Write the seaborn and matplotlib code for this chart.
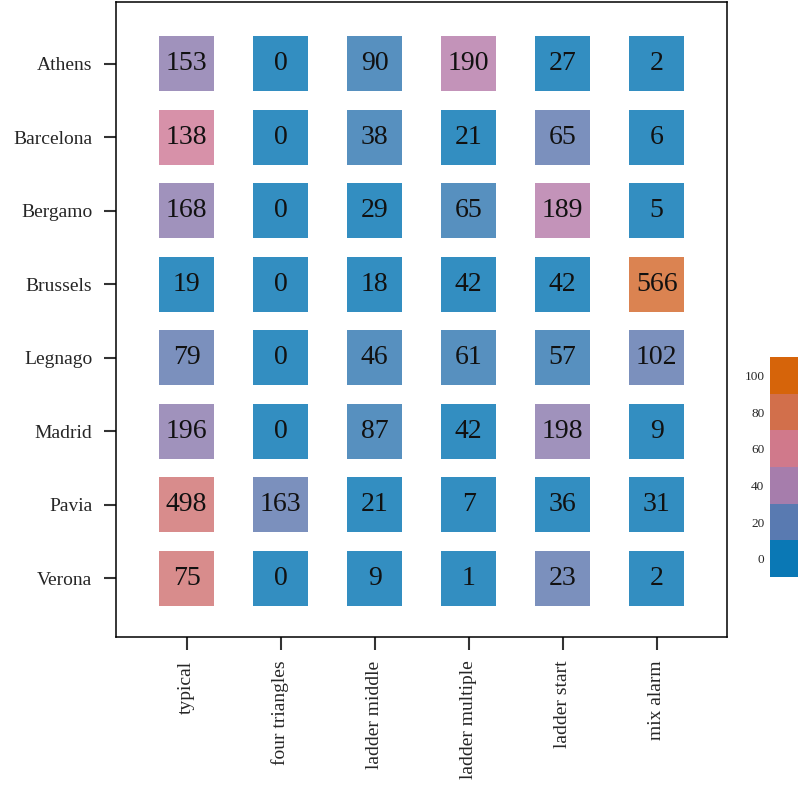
import numpy as np
import pandas as pd
import matplotlib
matplotlib.use("Agg")
import matplotlib.pyplot as plt
from matplotlib.colors import ListedColormap, BoundaryNorm
import matplotlib.cm as cm
import seaborn as sns

# data
cities = ["Athens", "Barcelona", "Bergamo", "Brussels", "Legnago", "Madrid", "Pavia", "Verona"]
patterns = ["typical", "four triangles", "ladder middle", "ladder multiple", "ladder start", "mix alarm"]
counts = [
    [153, 0, 90, 190, 27, 2],
    [138, 0, 38, 21, 65, 6],
    [168, 0, 29, 65, 189, 5],
    [19, 0, 18, 42, 42, 566],
    [79, 0, 46, 61, 57, 102],
    [196, 0, 87, 42, 198, 9],
    [498, 163, 21, 7, 36, 31],
    [75, 0, 9, 1, 23, 2],
]
cbar_ticks = [0, 20, 40, 60, 80, 100]

counts = np.array(counts)
share = 100 * counts / counts.sum(axis=1, keepdims=True)

# long table for plotting
rows = []
for i, c in enumerate(cities):
    for j, p in enumerate(patterns):
        rows.append({"x": j, "y": i, "count": counts[i, j],
                     "bin": int(min(share[i, j] // 10, 9))})
df = pd.DataFrame(rows)

anchor = ["#0072B2", "#CC79A7", "#D55E00"]
cell_pal = sns.blend_palette(anchor, 10)
bar_pal = sns.blend_palette(anchor, 6)

sns.set_style("white")
plt.rcParams["font.family"] = ["Liberation Serif", "DejaVu Serif"]

fig = plt.figure(figsize=(8, 7.95), dpi=100)
ax = fig.add_axes([0.145, 0.1987, 0.764, 0.799])

sns.scatterplot(data=df, x="x", y="y", hue="bin",
                palette={k: cell_pal[k] for k in range(10)},
                marker="s", s=1560, linewidth=0, alpha=0.8,
                legend=False, ax=ax)

for _, r in df.iterrows():
    ax.text(r["x"], r["y"], str(r["count"]), ha="center", va="center",
            fontsize=20, color="#111111")

ax.set_xlim(-0.75, len(patterns) - 0.25)
ax.set_ylim(len(cities) - 0.2, -0.84)
ax.set_xticks(range(len(patterns)))
ax.set_xticklabels(patterns, rotation=90, fontsize=14)
ax.set_yticks(range(len(cities)))
ax.set_yticklabels(cities, fontsize=14)
ax.set_xlabel("")
ax.set_ylabel("")
ax.tick_params(axis="both", length=9, width=1.5, color="#333333", pad=8,
               bottom=True, left=True)
for sp in ax.spines.values():
    sp.set_visible(True)
    sp.set_color("black")
    sp.set_linewidth(1.1)

# colorbar
cax = fig.add_axes([0.9625, 0.274, 0.035, 0.277])
bounds = np.arange(-10, 111, 20)
sm = cm.ScalarMappable(norm=BoundaryNorm(bounds, 6), cmap=ListedColormap(bar_pal))
cb = fig.colorbar(sm, cax=cax, ticks=cbar_ticks, alpha=0.96)
cb.outline.set_visible(False)
cax.minorticks_off()
cax.yaxis.set_ticks_position("left")
cax.tick_params(which="both", length=0, labelsize=9.5, pad=4)

fig.savefig("out.png", dpi=100)
